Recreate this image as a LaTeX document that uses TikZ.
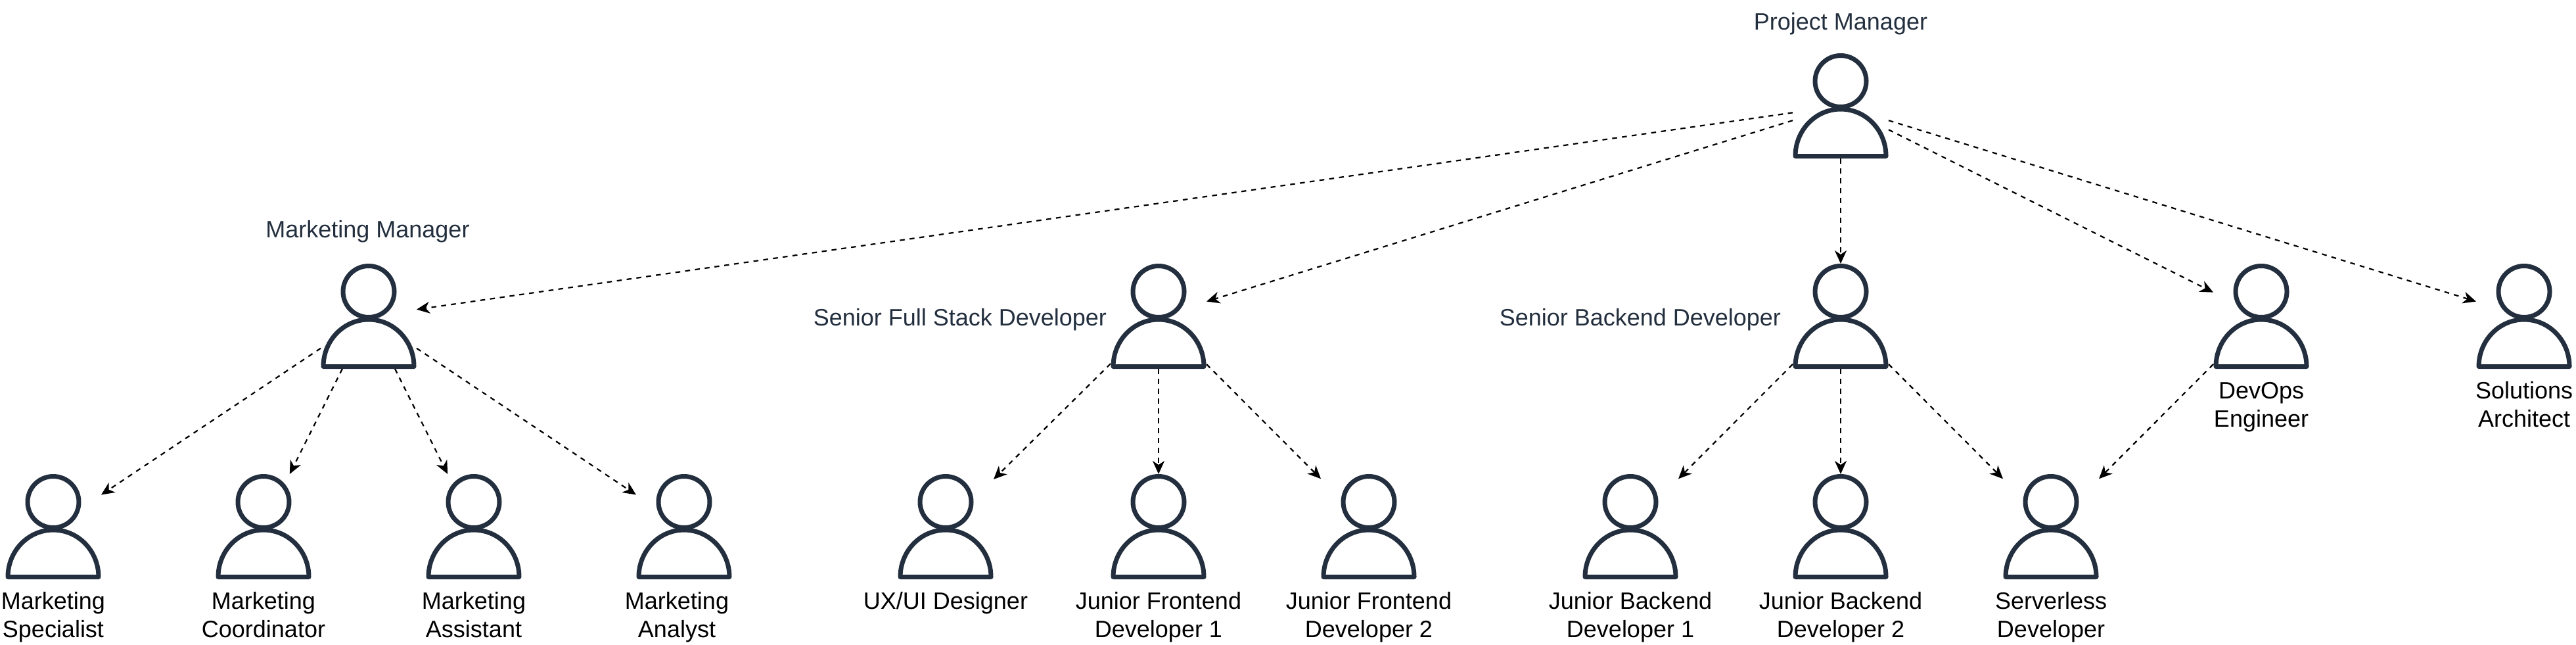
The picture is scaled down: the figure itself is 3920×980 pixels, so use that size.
\documentclass[tikz,border=0pt]{standalone}
\usepackage{fontspec}
\setmainfont{Liberation Sans}
\usetikzlibrary{arrows.meta}
\definecolor{iconink}{HTML}{232F3E}
\tikzset{
  persontile/.style={rectangle,minimum width=146pt,minimum height=160pt,inner sep=0pt,outer sep=0pt},
  iconline/.style={draw=iconink,line width=7pt,line join=round},
  link/.style={draw=black,line width=2.2pt,dash pattern=on 7.5pt off 7.5pt,-{Stealth[length=20pt,width=18pt,inset=6pt]}},
  rolelabel/.style={font=\fontsize{36}{43.3}\selectfont,text=iconink,inner sep=0pt,outer sep=0pt,anchor=base},
  staffname/.style={rolelabel,text=black,align=center},
}
\newcommand{\personicon}[3]{%
  \node[persontile] (#1) at (#2,#3) {};
  \draw[iconline] ([shift={(0,-37.5)}]#1.center) circle[radius=39pt];
  \draw[iconline] ([shift={(-69,76.5)}]#1.center) arc[start angle=180,end angle=0,x radius=69pt,y radius=71.5pt] -- cycle;
}
\begin{document}
\begin{tikzpicture}[x=1pt,y=-1pt]
\useasboundingbox (0,0) rectangle (3920,980);
\personicon{pm}{2801}{161}
\personicon{mm}{561}{481}
\personicon{sfs}{1763}{481}
\personicon{sbe}{2801}{481}
\personicon{devops}{3441}{481}
\personicon{sa}{3841}{481}
\personicon{ms}{81}{801}
\personicon{mc}{401}{801}
\personicon{mas}{721}{801}
\personicon{man}{1041}{801}
\personicon{ux}{1439}{801}
\personicon{jf1}{1763}{801}
\personicon{jf2}{2083}{801}
\personicon{jb1}{2481}{801}
\personicon{jb2}{2801}{801}
\personicon{sl}{3121}{801}

\node[rolelabel] (tpm) at (2801,45.5) {Project Manager};
\node[rolelabel] (tmm) at (559.5,361.5) {Marketing Manager};
\node[rolelabel,anchor=base east] (tsfs) at (1684,495) {Senior Full Stack Developer};
\node[rolelabel,anchor=base east] (tsbe) at (2710,495) {Senior Backend Developer};

\node[staffname] (tms) at (81,969.3) {Marketing\\Specialist};
\node[staffname] (tmc) at (401,969.3) {Marketing\\Coordinator};
\node[staffname] (tmas) at (721,969.3) {Marketing\\Assistant};
\node[staffname] (tman) at (1030,969.3) {Marketing\\Analyst};
\node[staffname] (tux) at (1439,926) {UX/UI Designer};
\node[staffname] (tjf1) at (1763,969.3) {Junior Frontend\\Developer 1};
\node[staffname] (tjf2) at (2083,969.3) {Junior Frontend\\Developer 2};
\node[staffname] (tjb1) at (2481,969.3) {Junior Backend\\Developer 1};
\node[staffname] (tjb2) at (2801,969.3) {Junior Backend\\Developer 2};
\node[staffname] (tsl) at (3121,969.3) {Serverless\\Developer};
\node[staffname] (tdev) at (3441,649.3) {DevOps\\Engineer};
\node[staffname] (tsa) at (3841,649.3) {Solutions\\Architect};

\foreach \a/\b in {pm/mm,pm/sfs,pm/sbe,pm/devops,pm/sa,mm/ms,mm/mc,mm/mas,mm/man,sfs/ux,sfs/jf1,sfs/jf2,sbe/jb1,sbe/jb2,sbe/sl,devops/sl}
  \draw[link] (\a) -- (\b);
\end{tikzpicture}
\end{document}
